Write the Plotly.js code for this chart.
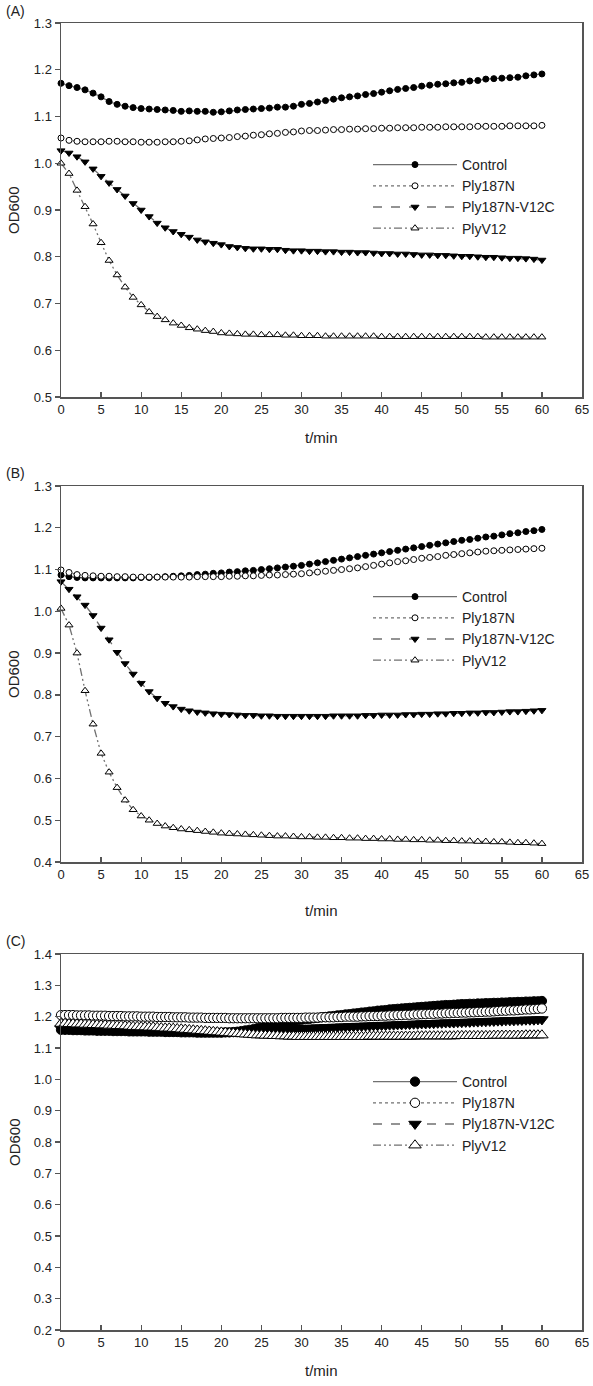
<!DOCTYPE html>
<html><head><meta charset="utf-8">
<script src="https://cdn.plot.ly/plotly-3.0.1.min.js"></script>
<style>html,body{margin:0;padding:0;background:#fff;}#chart{width:593px;height:1386px;}</style>
</head><body><div id="chart"></div>
<script>
// ---------- DATA ----------
const seriesNames = ["Control", "Ply187N", "Ply187N-V12C", "PlyV12"];
const panelLabels = ["(A)", "(B)", "(C)"];
const xTitle = "t/min";
const yTitle = "OD600";

// Panels A and B: readings every minute
const timeMin = [0,1,2,3,4,5,6,7,8,9,10,11,12,13,14,15,16,17,18,19,20,21,22,23,24,25,26,27,28,29,30,
  31,32,33,34,35,36,37,38,39,40,41,42,43,44,45,46,47,48,49,50,51,52,53,54,55,56,57,58,59,60];

// Panel C: readings every half minute
const timeHalfMin = [0,0.5,1,1.5,2,2.5,3,3.5,4,4.5,5,5.5,6,6.5,7,7.5,8,8.5,9,9.5,10,
  10.5,11,11.5,12,12.5,13,13.5,14,14.5,15,15.5,16,16.5,17,17.5,18,18.5,19,19.5,20,
  20.5,21,21.5,22,22.5,23,23.5,24,24.5,25,25.5,26,26.5,27,27.5,28,28.5,29,29.5,30,
  30.5,31,31.5,32,32.5,33,33.5,34,34.5,35,35.5,36,36.5,37,37.5,38,38.5,39,39.5,40,
  40.5,41,41.5,42,42.5,43,43.5,44,44.5,45,45.5,46,46.5,47,47.5,48,48.5,49,49.5,50,
  50.5,51,51.5,52,52.5,53,53.5,54,54.5,55,55.5,56,56.5,57,57.5,58,58.5,59,59.5,60];

// Panel A
const A_control = [1.171,1.166,1.162,1.157,1.150,1.142,1.132,1.126,1.122,1.119,1.117,1.116,1.115,1.114,1.113,1.111,1.112,1.111,1.111,1.109,1.110,1.112,1.114,1.115,1.116,1.117,1.118,1.120,1.120,1.122,1.126,
  1.128,1.131,1.134,1.137,1.140,1.142,1.144,1.147,1.149,1.152,1.155,1.158,1.160,1.162,1.165,1.167,1.169,1.170,1.172,1.173,1.176,1.177,1.180,1.181,1.182,1.183,1.184,1.187,1.189,1.191];
const A_ply187N = [1.054,1.049,1.047,1.046,1.046,1.046,1.047,1.047,1.046,1.046,1.045,1.045,1.045,1.046,1.046,1.047,1.048,1.050,1.052,1.053,1.054,1.055,1.057,1.058,1.060,1.061,1.063,1.064,1.066,1.067,1.069,
  1.070,1.070,1.071,1.072,1.072,1.073,1.073,1.074,1.074,1.075,1.075,1.076,1.076,1.076,1.077,1.077,1.077,1.078,1.078,1.078,1.078,1.079,1.079,1.079,1.079,1.080,1.080,1.080,1.080,1.081];
const A_v12c = [1.027,1.022,1.014,1.003,0.988,0.972,0.958,0.944,0.930,0.914,0.900,0.886,0.872,0.862,0.854,0.848,0.842,0.836,0.832,0.829,0.826,0.822,0.820,0.818,0.817,0.817,0.816,0.816,0.814,0.813,
  0.813,0.812,0.812,0.811,0.811,0.810,0.810,0.809,0.809,0.808,0.807,0.807,0.806,0.806,0.805,0.804,0.804,0.803,0.803,0.802,0.801,0.801,0.800,0.799,0.799,0.798,0.797,0.797,0.796,0.795,0.793];
const A_plyV12 = [1.000,0.978,0.942,0.907,0.870,0.830,0.792,0.761,0.735,0.713,0.697,0.682,0.672,0.665,0.658,0.653,0.648,0.645,0.642,0.640,0.637,0.636,0.635,0.634,0.634,0.633,0.633,0.633,0.632,0.632,
  0.631,0.631,0.631,0.630,0.630,0.630,0.630,0.630,0.630,0.630,0.629,0.629,0.629,0.629,0.629,0.629,0.629,0.629,0.629,0.629,0.629,0.629,0.629,0.628,0.628,0.628,0.628,0.628,0.628,0.628,0.628];

// Panel B
const B_control = [1.087,1.083,1.081,1.080,1.080,1.080,1.080,1.080,1.080,1.080,1.081,1.081,1.082,1.083,1.084,1.085,1.086,1.088,1.089,1.091,1.092,1.094,1.095,1.097,1.098,1.100,1.102,1.104,1.106,1.108,1.110,
  1.113,1.116,1.119,1.122,1.125,1.128,1.131,1.134,1.137,1.140,1.143,1.146,1.149,1.152,1.155,1.158,1.161,1.164,1.167,1.170,1.172,1.175,1.178,1.180,1.183,1.186,1.188,1.191,1.193,1.196];
const B_ply187N = [1.099,1.093,1.088,1.086,1.085,1.084,1.084,1.083,1.083,1.082,1.082,1.082,1.082,1.082,1.082,1.082,1.082,1.083,1.083,1.083,1.083,1.084,1.084,1.085,1.085,1.086,1.087,1.087,1.088,1.089,1.090,
  1.092,1.094,1.096,1.098,1.100,1.102,1.104,1.107,1.110,1.113,1.116,1.119,1.121,1.124,1.127,1.129,1.131,1.134,1.136,1.138,1.140,1.142,1.144,1.145,1.146,1.147,1.148,1.149,1.150,1.151];
const B_v12c = [1.071,1.053,1.035,1.015,0.990,0.960,0.932,0.902,0.875,0.850,0.828,0.808,0.792,0.780,0.772,0.766,0.762,0.759,0.757,0.755,0.754,0.753,0.752,0.751,0.751,0.750,0.750,0.749,0.749,0.749,0.749,
  0.749,0.749,0.749,0.750,0.750,0.750,0.750,0.751,0.751,0.752,0.752,0.752,0.753,0.753,0.754,0.754,0.755,0.755,0.756,0.756,0.757,0.757,0.758,0.758,0.759,0.760,0.760,0.761,0.762,0.763];
const B_plyV12 = [1.007,0.967,0.900,0.810,0.730,0.660,0.615,0.578,0.548,0.525,0.510,0.500,0.492,0.486,0.482,0.479,0.477,0.475,0.473,0.471,0.469,0.468,0.467,0.466,0.465,0.464,0.463,0.462,0.462,0.461,0.460,
  0.460,0.459,0.459,0.458,0.458,0.457,0.457,0.456,0.456,0.455,0.455,0.454,0.454,0.453,0.453,0.452,0.452,0.451,0.451,0.450,0.450,0.449,0.449,0.448,0.448,0.447,0.446,0.446,0.445,0.444];

// Panel C
const C_control = [1.158,1.158,1.158,1.157,1.157,1.157,1.156,1.156,1.156,1.155,1.155,1.155,1.155,1.154,1.154,1.154,1.154,1.153,1.153,1.153,1.153,
  1.153,1.152,1.152,1.152,1.152,1.151,1.151,1.151,1.151,1.150,1.150,1.150,1.150,1.149,1.149,1.149,1.149,1.149,1.149,1.149,
  1.150,1.150,1.151,1.152,1.154,1.156,1.158,1.160,1.163,1.165,1.168,1.170,1.173,1.176,1.178,1.181,1.183,1.186,1.188,1.190,
  1.192,1.193,1.195,1.196,1.198,1.199,1.201,1.202,1.204,1.205,1.207,1.208,1.210,1.211,1.213,1.214,1.216,1.217,1.219,1.220,
  1.221,1.223,1.224,1.225,1.226,1.227,1.228,1.229,1.230,1.231,1.232,1.233,1.234,1.235,1.236,1.237,1.237,1.238,1.239,1.240,
  1.240,1.241,1.241,1.242,1.242,1.243,1.243,1.244,1.244,1.245,1.245,1.246,1.246,1.247,1.247,1.248,1.248,1.249,1.249,1.250];
const C_ply187N = [1.205,1.205,1.205,1.205,1.204,1.204,1.204,1.204,1.203,1.203,1.203,1.203,1.202,1.202,1.202,1.202,1.201,1.201,1.201,1.201,1.200,
  1.200,1.200,1.200,1.199,1.199,1.199,1.199,1.198,1.198,1.198,1.198,1.197,1.197,1.197,1.197,1.196,1.196,1.196,1.196,1.196,
  1.196,1.195,1.195,1.195,1.195,1.195,1.195,1.195,1.195,1.195,1.195,1.195,1.195,1.195,1.196,1.196,1.196,1.196,1.196,1.196,
  1.197,1.197,1.197,1.197,1.198,1.198,1.198,1.198,1.199,1.199,1.200,1.200,1.200,1.200,1.201,1.201,1.202,1.202,1.202,1.203,
  1.203,1.204,1.204,1.205,1.205,1.206,1.206,1.207,1.207,1.208,1.208,1.209,1.209,1.210,1.210,1.211,1.211,1.212,1.212,1.213,
  1.213,1.214,1.214,1.215,1.215,1.216,1.216,1.217,1.218,1.219,1.219,1.220,1.220,1.221,1.222,1.223,1.223,1.224,1.225,1.226];
const C_v12c = [1.162,1.162,1.162,1.161,1.161,1.161,1.161,1.160,1.160,1.160,1.160,1.159,1.159,1.159,1.159,1.158,1.158,1.158,1.158,1.157,1.157,
  1.157,1.156,1.156,1.156,1.156,1.155,1.155,1.155,1.155,1.154,1.154,1.154,1.154,1.153,1.153,1.153,1.153,1.153,1.153,1.152,
  1.152,1.152,1.152,1.152,1.152,1.153,1.153,1.154,1.154,1.155,1.155,1.156,1.157,1.158,1.159,1.160,1.161,1.162,1.162,1.163,
  1.163,1.164,1.164,1.165,1.165,1.166,1.166,1.167,1.167,1.168,1.168,1.169,1.169,1.170,1.170,1.171,1.171,1.172,1.172,1.173,
  1.173,1.174,1.174,1.175,1.175,1.176,1.176,1.177,1.177,1.178,1.178,1.179,1.179,1.180,1.180,1.181,1.181,1.181,1.182,1.182,
  1.183,1.183,1.184,1.184,1.185,1.185,1.186,1.186,1.187,1.187,1.188,1.188,1.188,1.189,1.189,1.190,1.190,1.190,1.191,1.191];
const C_plyV12 = [1.178,1.178,1.177,1.177,1.176,1.176,1.175,1.175,1.174,1.174,1.173,1.173,1.172,1.172,1.171,1.171,1.170,1.169,1.168,1.168,1.167,
  1.167,1.166,1.166,1.165,1.164,1.163,1.163,1.162,1.161,1.160,1.159,1.158,1.157,1.156,1.155,1.154,1.153,1.152,1.151,1.150,
  1.149,1.148,1.147,1.146,1.145,1.144,1.143,1.142,1.141,1.141,1.140,1.140,1.139,1.139,1.138,1.138,1.137,1.137,1.136,1.136,
  1.136,1.136,1.136,1.136,1.136,1.136,1.136,1.136,1.136,1.136,1.136,1.136,1.136,1.136,1.136,1.136,1.137,1.137,1.137,1.137,
  1.137,1.137,1.137,1.137,1.137,1.137,1.137,1.137,1.138,1.138,1.138,1.138,1.138,1.138,1.138,1.138,1.138,1.138,1.139,1.139,
  1.139,1.139,1.139,1.139,1.139,1.139,1.139,1.140,1.140,1.140,1.140,1.140,1.140,1.140,1.140,1.141,1.141,1.141,1.141,1.141];

const yRanges = [[0.5, 1.3], [0.4, 1.3], [0.2, 1.4]];

// ---------- STYLE ----------
const W = 593, H = 1386;
const FONT = "Liberation Sans, Arial, Helvetica, sans-serif";
const plotLeft = 61, plotRight = 582;
const plotTops = [23, 486, 954], plotBottoms = [397, 862, 1330];
const titleYs = [437, 910, 1370];
const labelYs = [11, 473, 941];
const legendTops = [149, 581, 1066];
const markerScale = [1, 1, 1.55];

const lineColor = "#707070";
const styles = [
  {symbol: "circle", fill: "#000", dash: "solid", size: 6},
  {symbol: "circle", fill: "#fff", dash: "dot", size: 6},
  {symbol: "triangle-down", fill: "#000", dash: "dash", size: 7},
  {symbol: "triangle-up", fill: "#fff", dash: "8px,3px,2px,3px,2px,3px", size: 7}
];

const panelTimes = [timeMin, timeMin, timeHalfMin];
const panelData = [
  [A_control, A_ply187N, A_v12c, A_plyV12],
  [B_control, B_ply187N, B_v12c, B_plyV12],
  [C_control, C_ply187N, C_v12c, C_plyV12]
];

const px2paperY = p => 1 - p / H;
const traces = [];
const layout = {
  width: W, height: H, margin: {l: 0, r: 0, t: 0, b: 0},
  paper_bgcolor: "#fff", plot_bgcolor: "#fff",
  font: {family: FONT, color: "#222", size: 13},
  annotations: []
};

panelData.forEach((series, p) => {
  const sfx = p === 0 ? "" : String(p + 1);
  const legName = p === 0 ? "legend" : "legend" + (p + 1);
  series.forEach((vals, i) => {
    const st = styles[i];
    traces.push({
      type: "scatter", mode: "lines+markers",
      x: panelTimes[p], y: vals, name: seriesNames[i],
      xaxis: "x" + sfx, yaxis: "y" + sfx, legend: legName,
      cliponaxis: false,
      line: {color: lineColor, width: 1.3, dash: st.dash},
      marker: {symbol: st.symbol, size: st.size * markerScale[p], color: st.fill,
               line: {color: "#000", width: 1}}
    });
  });
  layout["xaxis" + sfx] = {
    domain: [plotLeft / W, plotRight / W], anchor: "y" + sfx,
    range: [0, 65], dtick: 5, tick0: 0, ticks: "inside", ticklen: 5, tickwidth: 1.3,
    tickcolor: "#555", showline: true, mirror: true, linecolor: "#555", linewidth: 1.5,
    showgrid: false, zeroline: false, tickfont: {size: 13, family: FONT, color: "#222"}
  };
  layout["yaxis" + sfx] = {
    domain: [px2paperY(plotBottoms[p]), px2paperY(plotTops[p])], anchor: "x" + sfx,
    range: yRanges[p], dtick: 0.1, tick0: 0, tickformat: ".1f",
    ticks: "outside", ticklen: 5, tickwidth: 1.3, tickcolor: "#555",
    showline: true, mirror: true, linecolor: "#555", linewidth: 1.5,
    showgrid: false, zeroline: false, tickfont: {size: 13, family: FONT, color: "#222"}
  };
  layout[legName] = {
    x: 368 / W, xanchor: "left", y: px2paperY(legendTops[p]), yanchor: "top",
    bgcolor: "rgba(0,0,0,0)", borderwidth: 0, itemwidth: 84,
    font: {size: 14, family: FONT, color: "#222"}, tracegroupgap: 0
  };
  layout.annotations.push(
    {text: panelLabels[p], xref: "paper", yref: "paper", x: 4 / W, y: px2paperY(labelYs[p]),
     xanchor: "left", yanchor: "middle", showarrow: false, font: {size: 14, family: FONT, color: "#222"}},
    {text: yTitle, xref: "paper", yref: "paper", x: 14 / W,
     y: px2paperY((plotTops[p] + plotBottoms[p]) / 2), textangle: -90,
     xanchor: "center", yanchor: "middle", showarrow: false, font: {size: 15, family: FONT, color: "#222"}},
    {text: xTitle, xref: "paper", yref: "paper", x: ((plotLeft + plotRight) / 2) / W,
     y: px2paperY(titleYs[p]), xanchor: "center", yanchor: "middle", showarrow: false,
     font: {size: 15, family: FONT, color: "#222"}}
  );
});

Plotly.newPlot("chart", traces, layout, {staticPlot: true, displayModeBar: false});
</script>
</body></html>
